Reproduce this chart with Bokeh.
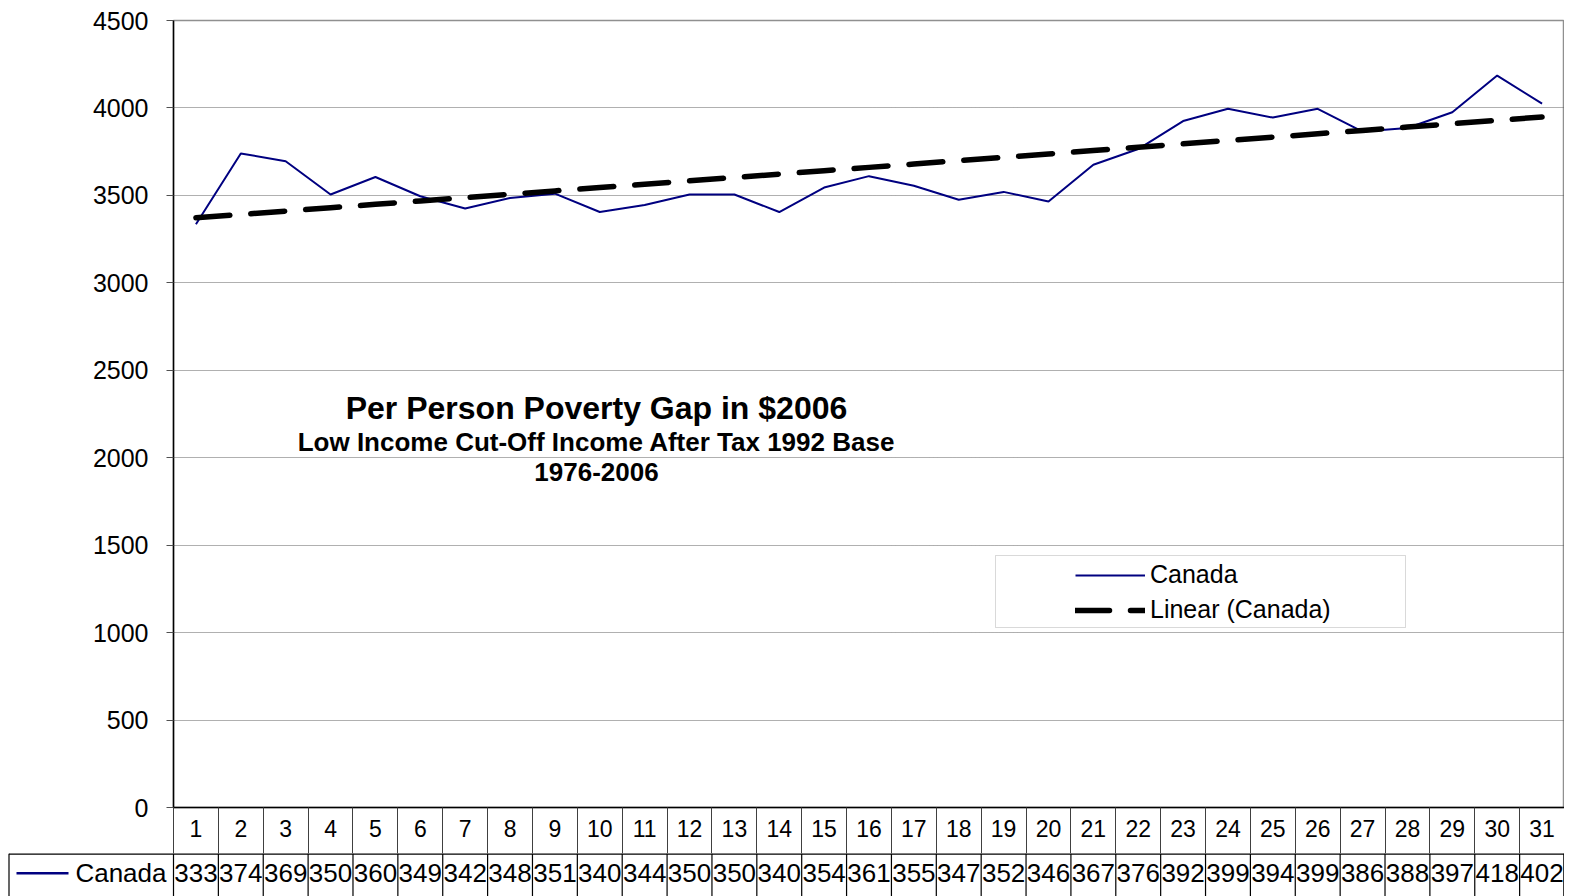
import numpy as np
from bokeh.plotting import figure
from bokeh.models import Range1d, FixedTicker, Legend, LegendItem, BoxAnnotation, Label
from bokeh.layouts import column
from bokeh.embed import file_html
from bokeh.resources import INLINE
from bokeh.core.properties import value

# ---- data ----
periods = list(range(1, 32))
canada = [3335, 3740, 3695, 3505, 3605, 3495, 3425, 3485, 3510, 3405,
          3445, 3505, 3505, 3405, 3545, 3610, 3555, 3475, 3520, 3465,
          3675, 3765, 3925, 3995, 3945, 3995, 3865, 3885, 3975, 4185, 4025]
# the data table in the reference shows only the first three digits (cells too narrow)
table_labels = [str(v)[:3] for v in canada]
y_ticks = list(range(0, 4501, 500))
series_name = "Canada"
trend_name = "Linear (Canada)"
title_main = "Per Person Poverty Gap in $2006"
title_sub1 = "Low Income Cut-Off Income After Tax 1992 Base"
title_sub2 = "1976-2006"

FONT = "Liberation Sans"
NAVY = "#000080"

slope, intercept = np.polyfit(periods, canada, 1)
trend = [slope * x + intercept for x in periods]

# ---- layout numbers ----
W = 1564
LEFT = 173
TOP = 20
FRAME_BOTTOM = 807
FRAME_W = W - LEFT
unit = FRAME_W / 31.0
x_left = 0.5 - LEFT / unit
ypx = 4500.0 / (FRAME_BOTTOM - TOP)


def xd(px):
    return 0.5 + (px - LEFT) / unit


def yd(py):
    return (FRAME_BOTTOM - py) * ypx


p = figure(width=W, height=853, x_range=Range1d(0.5, 31.5), y_range=Range1d(0, 4500),
           output_backend="svg", toolbar_location=None,
           min_border_left=LEFT, min_border_right=0, min_border_top=TOP, min_border_bottom=46)
p.frame_align = False
p.background_fill_color = "white"
p.border_fill_color = "white"
p.outline_line_color = "#909090"
p.outline_line_width = 1.5

# x axis (category row of the data table)
p.xaxis.ticker = FixedTicker(ticks=periods, minor_ticks=[i + 0.5 for i in range(0, 32)])
p.xaxis.major_tick_line_color = None
p.xaxis.major_tick_out = 0
p.xaxis.major_tick_in = 0
p.xaxis.minor_tick_in = 0
p.xaxis.minor_tick_out = 46
p.xaxis.minor_tick_line_color = "#404040"
p.xaxis.minor_tick_line_width = 1
p.xaxis.major_label_standoff = -34
p.xaxis.major_label_text_font = FONT
p.xaxis.major_label_text_font_size = "23px"
p.xaxis.major_label_text_color = "black"
p.xaxis.axis_line_color = "black"
p.xaxis.axis_line_width = 1.5

# y axis
p.yaxis.ticker = FixedTicker(ticks=y_ticks)
p.yaxis.major_tick_in = 0
p.yaxis.major_tick_out = 7
p.yaxis.major_tick_line_color = "#505050"
p.yaxis.minor_tick_line_color = None
p.yaxis.major_label_standoff = 18
p.yaxis.major_label_text_font = FONT
p.yaxis.major_label_text_font_size = "25px"
p.yaxis.major_label_text_color = "black"
p.yaxis.axis_line_color = "black"
p.yaxis.axis_line_width = 1.5

p.xgrid.visible = False
p.ygrid.grid_line_color = "#606060"
p.ygrid.grid_line_dash = "1 1"
p.ygrid.grid_line_width = 1

r1 = p.line(periods, canada, line_color=NAVY, line_width=2)
r2 = p.line(periods, trend, line_color="black", line_width=5.5, line_dash="34 21", line_cap="round")

# legend box
box = BoxAnnotation(left=xd(995), right=xd(1405), bottom=yd(627), top=yd(555),
                    fill_color="white", fill_alpha=1, line_color="#808080", line_width=1)
p.add_layout(box)

legend = Legend(items=[LegendItem(label=series_name, renderers=[r1]),
                       LegendItem(label=trend_name, renderers=[r2])],
                location=(1075 - 5 - LEFT, FRAME_BOTTOM - 629), glyph_width=70, glyph_height=20,
                label_text_font=FONT, label_text_font_size="25px", label_text_color="black",
                label_standoff=5, spacing=6, padding=5,
                border_line_alpha=0, background_fill_alpha=0)
p.add_layout(legend)

# in-chart titles
for txt, ypos, size in [(title_main, 407, "32px"), (title_sub1, 441, "26px"), (title_sub2, 471, "26px")]:
    p.add_layout(Label(x=xd(596), y=yd(ypos), text=txt, text_align="center",
                       text_baseline="middle", text_font=FONT, text_font_size=size,
                       text_font_style="bold", text_color="black"))

# ---- data table value row ----
TH = 43
t = figure(width=W, height=TH, x_range=Range1d(x_left, 31.5), y_range=Range1d(1 - TH / 44, 1),
           output_backend="svg", toolbar_location=None, min_border=0)
t.frame_align = False
t.axis.visible = False
t.grid.visible = False
t.outline_line_color = None
t.background_fill_color = "white"
t.border_fill_color = "white"

bounds = [x_left + 8.5 / unit] + [i + 0.5 for i in range(0, 32)]
bounds[-1] = 31.5 - 0.015
t.segment(x0=bounds, y0=[0] * len(bounds), x1=bounds, y1=[1] * len(bounds),
          line_color="black", line_width=1.2)
t.segment(x0=[x_left + 8.5 / unit], y0=[1], x1=[31.5], y1=[1], line_color="black", line_width=2.5)
t.text(x=periods, y=[0.55] * 31, text=table_labels, text_align="center", text_baseline="middle",
       text_font=value(FONT), text_font_size="26px", text_color="black")
t.line(x=[x_left + 16 / unit, x_left + 68 / unit], y=[0.55, 0.55], line_color=NAVY, line_width=2.5)
t.text(x=[x_left + 166 / unit], y=[0.55], text=[series_name], text_align="right", text_baseline="middle",
       text_font=value(FONT), text_font_size="26px", text_color="black")

layout = column(p, t, spacing=0)
open("out.html", "w").write(file_html(layout, INLINE))
